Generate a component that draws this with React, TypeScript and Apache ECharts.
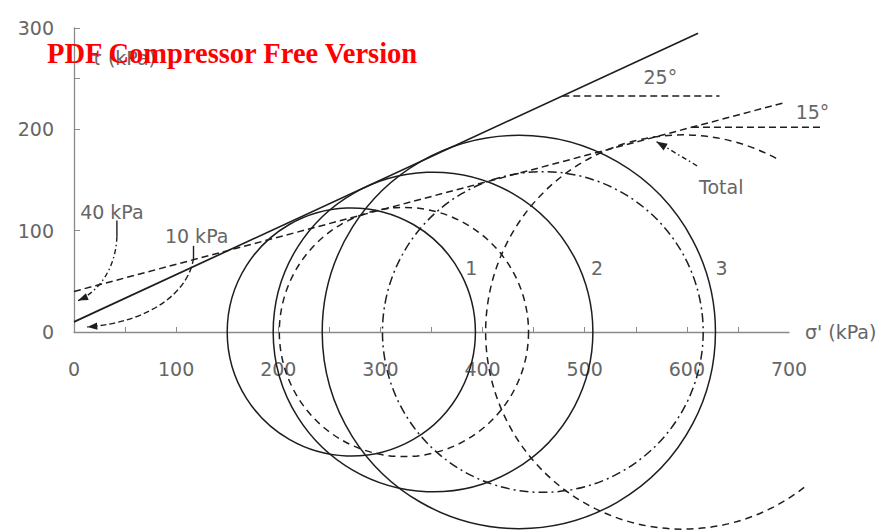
import React, { useEffect, useRef } from 'react';
import * as echarts from 'echarts';

// Axis ticks and labels (kPa)
const xTickLabels = [0, 100, 200, 300, 400, 500, 600, 700];
const xTickMarks = [50, 100, 150, 200, 250, 300, 350, 400, 450, 500, 550, 600, 650];
const yTickLabels = [0, 100, 200, 300];
const yTickMarks = [100, 200, 250, 300];

// Effective-stress Mohr circles (solid), numbered 1-3
const circleNames = ['1', '2', '3'];
const effSigma3 = [150, 195, 243];
const effSigma1 = [393, 508, 628];

// Total-stress Mohr circles (dashed)
const totSigma3 = [201, 302, 403];
const totSigma1 = [445, 616, 789];
const totArcFrom = [0, 0, 52];
const totArcTo = [360, 360, 299];

// Failure envelopes: effective (c' = 10 kPa, 25°) and total (c = 40 kPa, 15°)
const cohesion = [10, 40];
const frictionAngle = [25, 15];
const envelopeEnd = [611, 697];
const angleRefFrom = [478, 605];
const angleRefTo = [632, 734];

// Circle number labels
const circleLabelSigma = [389, 512, 634];
const circleLabelTau = 63;

const INK = '#1e1e1e';
const GREY = '#666666';
const AXIS = '#8a8a8a';
const FONT = 'DejaVu Sans';
const totalDash = [[7, 5], [9, 4, 2, 4], [7, 5]];

const tanDeg = (d: number) => Math.tan((d * Math.PI) / 180);

export default function App() {
  const ref = useRef<HTMLDivElement>(null);

  useEffect(() => {
    if (!ref.current) return;
    const chart = echarts.init(ref.current, undefined, { renderer: 'svg' });

    const envelopeSeries = cohesion.map((c, i) => ({
      type: 'line',
      name: i === 0 ? 'Effective' : 'Total',
      data: [
        [0, c],
        [envelopeEnd[i], c + envelopeEnd[i] * tanDeg(frictionAngle[i])],
      ],
      symbol: 'none',
      silent: true,
      clip: false,
      lineStyle: { color: INK, width: i === 0 ? 1.7 : 1.5, type: i === 0 ? 'solid' : [7, 4] },
      z: 3,
    }));

    // Horizontal reference lines marking the friction angles
    const angleRefData = cohesion.map((c, i) => [
      angleRefFrom[i],
      c + angleRefFrom[i] * tanDeg(frictionAngle[i]),
      angleRefTo[i],
    ]);

    const angleRefSeries = {
      type: 'custom',
      silent: true,
      clip: false,
      encode: { x: 0, y: 1 },
      data: angleRefData,
      renderItem: (_params: any, api: any) => {
        const a = api.coord([api.value(0), api.value(1)]);
        const b = api.coord([api.value(2), api.value(1)]);
        return {
          type: 'line',
          shape: { x1: a[0], y1: a[1], x2: b[0], y2: b[1] },
          style: { stroke: INK, lineWidth: 1.5, lineDash: [7, 4] },
        };
      },
      z: 3,
    };

    const circleData: number[][] = [];
    effSigma3.forEach((s3, i) => {
      const s1 = effSigma1[i];
      circleData.push([(s1 + s3) / 2, 0, (s1 - s3) / 2, 0, 360, 0]);
    });
    totSigma3.forEach((s3, i) => {
      const s1 = totSigma1[i];
      circleData.push([(s1 + s3) / 2, 0, (s1 - s3) / 2, totArcFrom[i], totArcTo[i], i + 1]);
    });

    const circleSeries = {
      type: 'custom',
      silent: true,
      clip: false,
      encode: { x: 0, y: 1 },
      data: circleData,
      renderItem: (_params: any, api: any) => {
        const c = api.coord([api.value(0), 0]);
        const r = api.size([api.value(2), 0])[0];
        const kind = api.value(5);
        return {
          type: 'arc',
          shape: {
            cx: c[0],
            cy: c[1],
            r,
            startAngle: (api.value(3) * Math.PI) / 180,
            endAngle: (api.value(4) * Math.PI) / 180,
            clockwise: true,
          },
          style: {
            stroke: INK,
            lineWidth: 1.5,
            fill: 'none',
            lineDash: kind === 0 ? null : totalDash[kind - 1],
          },
        };
      },
      z: 2,
    };

    const labelStyle = { color: GREY, fontSize: 19, fontFamily: FONT };

    chart.setOption({
      animation: false,
      grid: { left: 74, right: 102, top: 28, bottom: 199, outerBoundsMode: 'none' },
      xAxis: {
        type: 'value',
        min: 0,
        max: 700,
        interval: 100,
        name: "σ' (kPa)",
        nameLocation: 'end',
        nameGap: 16,
        nameTextStyle: { ...labelStyle, padding: [8, 0, 0, 0] },
        axisLine: { lineStyle: { color: AXIS, width: 1.3 } },
        axisTick: { show: true, inside: true, length: 5, customValues: xTickMarks, lineStyle: { color: AXIS } },
        axisLabel: { ...labelStyle, margin: 27, customValues: xTickLabels },
        splitLine: { show: false },
      },
      yAxis: {
        type: 'value',
        min: 0,
        max: 300,
        interval: 100,
        axisLine: { show: true, lineStyle: { color: AXIS, width: 1.3 } },
        axisTick: { show: true, inside: true, length: 6, customValues: yTickMarks, lineStyle: { color: AXIS } },
        axisLabel: { ...labelStyle, margin: 20, customValues: yTickLabels },
        splitLine: { show: false },
      },
      series: [circleSeries, ...envelopeSeries, angleRefSeries],
    });

    const P = (p: number[]) => chart.convertToPixel({ gridIndex: 0 }, p) as number[];

    const arrowHead = (tip: number[], from: number[], len = 10, half = 3.6) => {
      const dx = tip[0] - from[0];
      const dy = tip[1] - from[1];
      const d = Math.hypot(dx, dy) || 1;
      const ux = dx / d;
      const uy = dy / d;
      const bx = tip[0] - ux * len;
      const by = tip[1] - uy * len;
      return {
        type: 'polygon',
        silent: true,
        shape: {
          points: [
            tip,
            [bx - uy * half, by + ux * half],
            [bx + uy * half, by - ux * half],
          ],
        },
        style: { fill: INK },
        z: 10,
      };
    };

    const curvedLeader = (stem: number[][], cp1: number[], cp2: number[], tip: number[], dash: number[]) => {
      const s0 = P(stem[0]);
      const s1 = P(stem[1]);
      const c1 = P(cp1);
      const c2 = P(cp2);
      const t = P(tip);
      return [
        {
          type: 'line',
          silent: true,
          shape: { x1: s0[0], y1: s0[1], x2: s1[0], y2: s1[1] },
          style: { stroke: INK, lineWidth: 1.4 },
          z: 10,
        },
        {
          type: 'bezierCurve',
          silent: true,
          shape: { x1: s1[0], y1: s1[1], cpx1: c1[0], cpy1: c1[1], cpx2: c2[0], cpy2: c2[1], x2: t[0], y2: t[1] },
          style: { stroke: INK, lineWidth: 1.4, fill: 'none', lineDash: dash },
          z: 10,
        },
        arrowHead(t, c2),
      ];
    };

    const text = (str: string, at: number[], align: string) => {
      const p = P(at);
      return {
        type: 'text',
        silent: true,
        x: p[0],
        y: p[1],
        style: {
          text: str,
          fill: GREY,
          fontSize: 19,
          fontFamily: FONT,
          align,
          verticalAlign: 'middle',
        },
        z: 20,
      };
    };

    const totalTip = P([570, 188]);
    const totalTail = P([610, 164]);

    const graphics: any[] = [
      ...curvedLeader([[42, 110], [42, 94]], [41, 64], [25, 40], [4, 31], [5, 3, 1.5, 3]),
      ...curvedLeader([[117, 85], [117, 73]], [113, 42], [78, 10], [13, 5], [6, 3]),
      {
        type: 'line',
        silent: true,
        shape: { x1: totalTail[0], y1: totalTail[1], x2: totalTip[0], y2: totalTip[1] },
        style: { stroke: INK, lineWidth: 1.4, lineDash: [5, 3, 1.5, 3] },
        z: 10,
      },
      arrowHead(totalTip, totalTail, 11, 4),
      text('40 kPa', [6, 118], 'left'),
      text('10 kPa', [89, 95], 'left'),
      text('Total', [612, 143], 'left'),
      text('25°', [574, 252], 'center'),
      text('15°', [723, 217], 'center'),
      ...circleNames.map((n, i) => text(n, [circleLabelSigma[i], circleLabelTau], 'center')),
      {
        type: 'text',
        silent: true,
        x: 156,
        y: 58,
        style: { text: 'τ (kPa)', fill: GREY, fontSize: 19, fontFamily: FONT, align: 'right', verticalAlign: 'middle' },
        z: 20,
      },
      {
        type: 'text',
        silent: true,
        x: 47,
        y: 53,
        style: {
          text: 'PDF Compressor Free Version',
          fill: '#ff0000',
          fontSize: 28.5,
          fontWeight: 'bold',
          fontFamily: '"Liberation Serif", "Times New Roman", serif',
          align: 'left',
          verticalAlign: 'middle',
        },
        z: 30,
      },
    ];

    chart.setOption({ graphic: graphics });

    return () => chart.dispose();
  }, []);

  return (
    <div
      ref={ref}
      style={{ position: 'fixed', left: 0, top: 0, width: 891, height: 531, background: '#ffffff' }}
    />
  );
}
